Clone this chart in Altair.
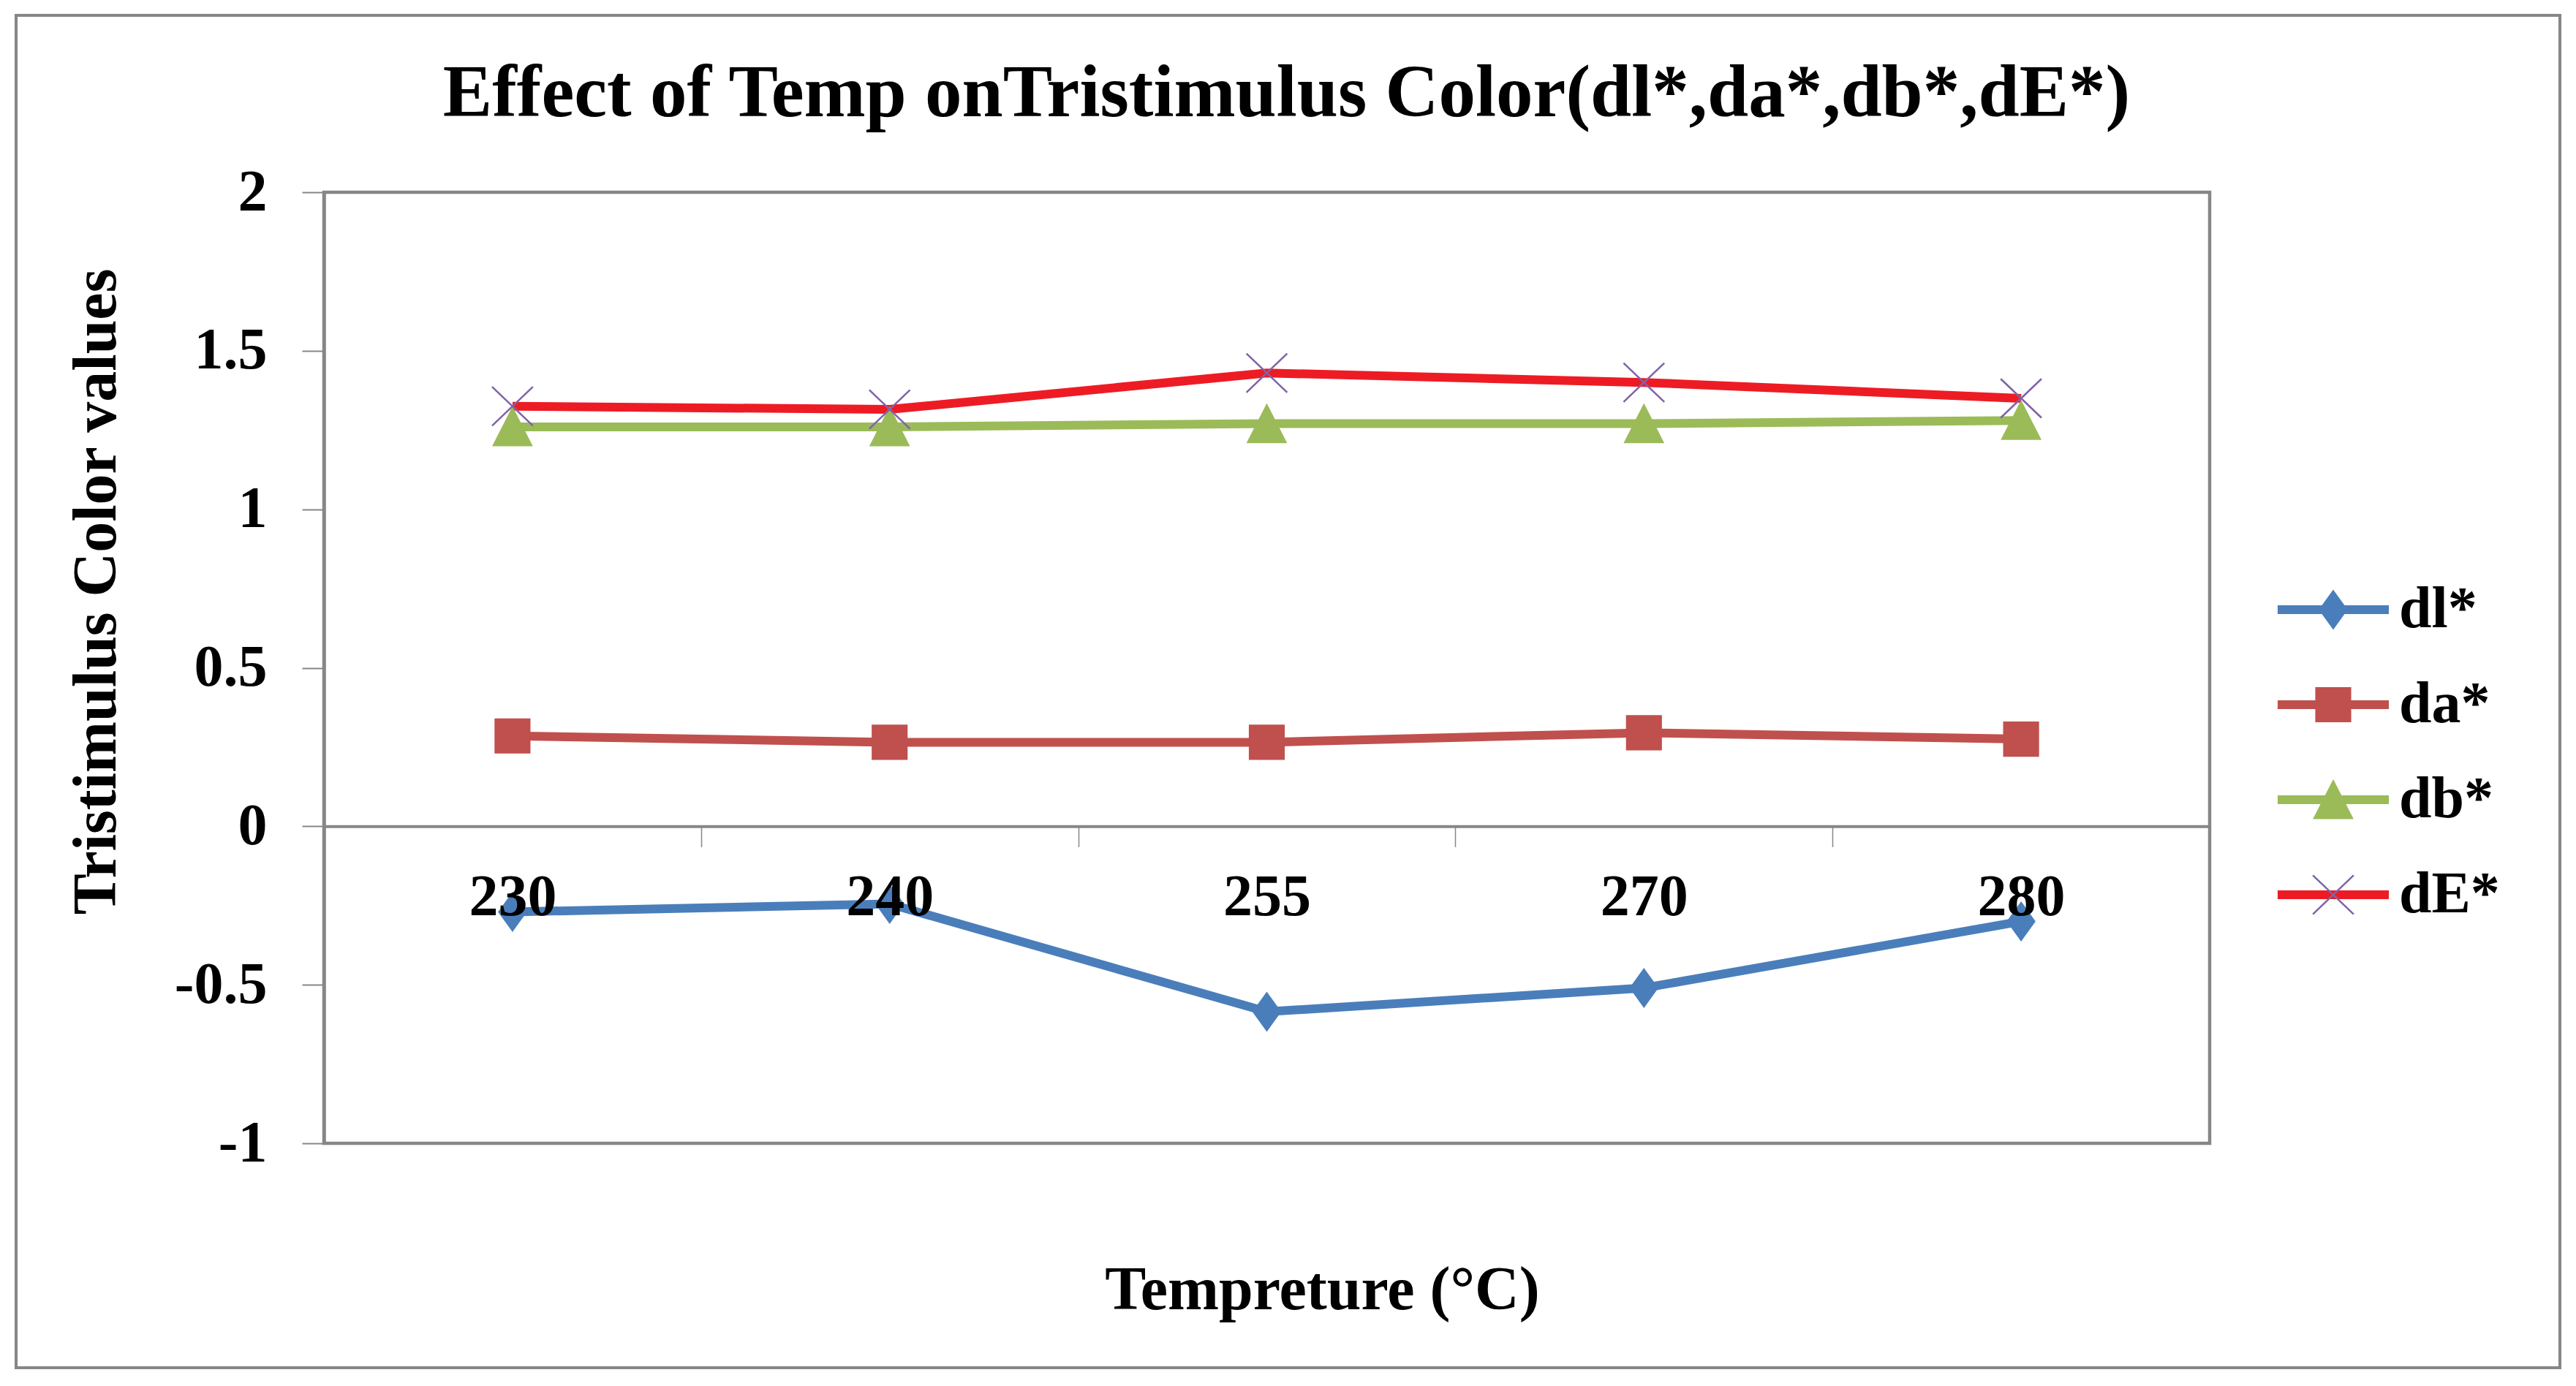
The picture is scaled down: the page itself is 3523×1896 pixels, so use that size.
import altair as alt
import pandas as pd

# ---------------- data ----------------
temps = ["230", "240", "255", "270", "280"]
series_names = ["dl*", "da*", "db*", "dE*"]
dl_vals = [-0.27, -0.245, -0.585, -0.51, -0.30]
da_vals = [0.285, 0.265, 0.265, 0.295, 0.275]
db_vals = [1.26, 1.26, 1.27, 1.27, 1.28]
dE_vals = [1.325, 1.315, 1.43, 1.40, 1.35]
y_ticks = [-1, -0.5, 0, 0.5, 1, 1.5, 2]

# ---------------- styles ----------------
line_colors = ["#4A7EBB", "#C0504D", "#9BBB59", "#ED1C24"]
marker_fill = ["#4A7EBB", "#C0504D", "#9BBB59", "transparent"]
marker_stroke = ["#4A7EBB", "#C0504D", "#9BBB59", "#7F63A8"]
marker_shapes = [
    "M0,-1L0.72,0L0,1L-0.72,0Z",
    "M-0.92,-0.9L0.92,-0.9L0.92,0.9L-0.92,0.9Z",
    "M0,-1L1.02,1L-1.02,1Z",
    "M-1.1,-1.05L1.1,1.05M-1.1,1.05L1.1,-1.05",
]
FONT = "Liberation Serif"
GRAY = "#868686"

rows = []
for name, vals in zip(series_names, [dl_vals, da_vals, db_vals, dE_vals]):
    for t, v in zip(temps, vals):
        rows.append({"temp": t, "value": v, "series": name, "series_m": name})
df = pd.DataFrame(rows)

W, H = 2579, 1301
PAD = {"left": 443, "top": 263, "right": 501, "bottom": 332}
ymin, ymax = -1, 2
zero_offset = -H * (0 - ymin) / (ymax - ymin)

x_enc = alt.X(
    "temp:N",
    sort=temps,
    bandPosition=0.5,
    scale=alt.Scale(type="band", paddingInner=0, paddingOuter=0),
    axis=alt.Axis(
        title="Tempreture (°C)",
        titleFont=FONT, titleFontSize=84, titleFontWeight="bold", titleColor="black",
        titleX=1365, titleY=660, titleAlign="center", titleBaseline="alphabetic",
        labelFont=FONT, labelFontSize=80, labelFontWeight="bold", labelColor="black",
        labelAngle=0, labelBaseline="alphabetic", labelPadding=93,
        tickBand="extent", tickSize=28, tickWidth=1.5, tickColor=GRAY,
        domainColor=GRAY, domainWidth=4, offset=zero_offset, zindex=1,
    ),
)
y_enc = alt.Y(
    "value:Q",
    scale=alt.Scale(domain=[ymin, ymax], nice=False, zero=False),
    axis=alt.Axis(
        title="Tristimulus Color values",
        titleFont=FONT, titleFontSize=84, titleFontWeight="bold", titleColor="black",
        titleX=-286, titleY=546, titleAlign="center", titleBaseline="alphabetic", titleAngle=270,
        values=y_ticks, labelExpr="'' + datum.value",
        labelFont=FONT, labelFontSize=80, labelFontWeight="bold", labelColor="black",
        labelPadding=48, tickSize=30, tickWidth=2, tickColor=GRAY,
        domainColor=GRAY, domainWidth=4.5, grid=False,
    ),
)

leg_common = dict(
    orient="none", legendX=2708, legendY=531, padding=0, title=None,
    labelFont=FONT, labelFontSize=80, labelFontWeight="bold", labelColor="black",
    rowPadding=50, symbolSize=2570, labelOffset=50,
)

lines = alt.Chart(df).mark_line(strokeWidth=12).encode(
    x=x_enc,
    y=y_enc,
    color=alt.Color(
        "series:N", sort=series_names,
        scale=alt.Scale(range=line_colors),
        legend=alt.Legend(symbolType="M-3,0H3", symbolStrokeWidth=12, **leg_common),
    ),
)

leg_marker = alt.Legend(symbolStrokeWidth=2.5, labelOpacity=0, **leg_common)
points = alt.Chart(df).mark_point(filled=True, opacity=1, size=2570, strokeWidth=2.5).encode(
    x=x_enc,
    y=y_enc,
    shape=alt.Shape("series_m:N", scale=alt.Scale(domain=series_names, range=marker_shapes), legend=leg_marker),
    fill=alt.Fill("series_m:N", scale=alt.Scale(domain=series_names, range=marker_fill), legend=leg_marker),
    stroke=alt.Stroke("series_m:N", scale=alt.Scale(domain=series_names, range=marker_stroke), legend=leg_marker),
)

frame = alt.Chart(alt.Data(values=[{"k": 1}])).mark_rect(
    fill="transparent", stroke=GRAY, strokeWidth=4
).encode(
    x=alt.value(22 - PAD["left"]), x2=alt.value(3501 - PAD["left"]),
    y=alt.value(21 - PAD["top"]), y2=alt.value(1871 - PAD["top"]),
)

chart = alt.layer(frame, lines, points).properties(
    width=W, height=H,
    padding=PAD,
    autosize=alt.AutoSizeParams(type="none"),
    title=alt.TitleParams(
        text="Effect of Temp onTristimulus Color(dl*,da*,db*,dE*)",
        font=FONT, fontSize=101, fontWeight="bold", color="black",
        anchor="middle", frame="group", baseline="alphabetic", dx=27, offset=-241,
    ),
).configure(background="white").configure_view(
    stroke=GRAY, strokeWidth=4.5
)

chart.save("out.html", embed_options={"renderer": "svg", "actions": False})
